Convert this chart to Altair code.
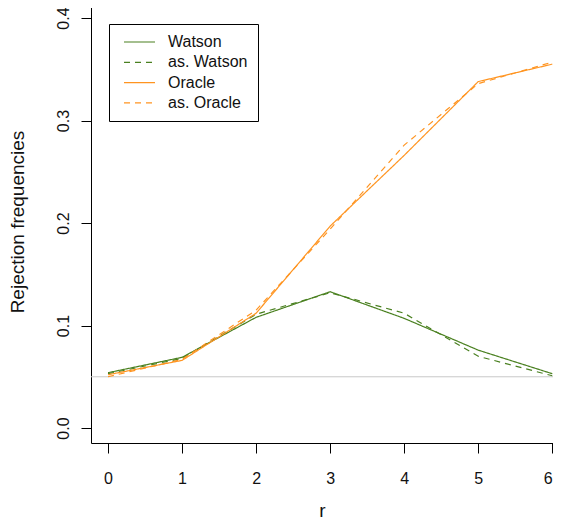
import altair as alt
import pandas as pd

r_values = [0, 1, 2, 3, 4, 5, 6]
watson = [0.054, 0.069, 0.108, 0.133, 0.107, 0.076, 0.053]
as_watson = [0.053, 0.068, 0.111, 0.132, 0.112, 0.070, 0.051]
oracle = [0.052, 0.066, 0.112, 0.197, 0.266, 0.338, 0.355]
as_oracle = [0.050, 0.067, 0.115, 0.194, 0.276, 0.336, 0.357]
series_names = ["Watson", "as. Watson", "Oracle", "as. Oracle"]
nominal_level = [0.05]
y_ticks = [0.0, 0.1, 0.2, 0.3, 0.4]

rows = []
for name, vals in zip(series_names, [watson, as_watson, oracle, as_oracle]):
    for r, v in zip(r_values, vals):
        rows.append({"r": r, "value": v, "series": name})
df = pd.DataFrame(rows)

GREEN = "#4A8020"
ORANGE = "#FF9420"
FONT = "Liberation Sans"

xscale = alt.Scale(domain=[-0.23, 6.01], nice=False, zero=False)
yscale = alt.Scale(domain=[-0.0146, 0.4176], nice=False, zero=False)


def make_legend():
    return alt.Legend(orient="none", legendX=18, legendY=24, title=None,
                      strokeColor="black", fillColor="white", padding=10,
                      symbolType="stroke", symbolSize=961,
                      symbolStrokeWidth=1.2, symbolOffset=4,
                      labelOffset=12, labelFontSize=16, labelFont=FONT,
                      labelColor="#111", rowPadding=4.3, clipHeight=16)


rule = alt.Chart(pd.DataFrame({"y": nominal_level})).mark_rule(
    color="#c8c8c8", strokeWidth=1
).encode(y=alt.Y("y:Q", scale=yscale))

lines = alt.Chart(df).mark_line(strokeWidth=1.2, clip=True).encode(
    x=alt.X("r:Q", scale=xscale, title="r",
            axis=alt.Axis(values=r_values, format="d", tickSize=10, labelPadding=17,
                          titleY=73, titleBaseline="alphabetic")),
    y=alt.Y("value:Q", scale=yscale, title="Rejection frequencies",
            axis=alt.Axis(values=y_ticks, format=".1f", tickSize=10, labelPadding=10,
                          labelAngle=270, labelAlign="center", labelBaseline="bottom",
                          titleX=-74, titleBaseline="middle")),
    color=alt.Color("series:N", scale=alt.Scale(domain=series_names,
                                                range=[GREEN, GREEN, ORANGE, ORANGE]),
                    legend=make_legend()),
    strokeDash=alt.StrokeDash("series:N", scale=alt.Scale(domain=series_names,
                                                          range=[[1, 0], [6, 5], [1, 0], [6, 5]]),
                              legend=make_legend()),
    order="r:Q",
)

chart = alt.layer(rule, lines).properties(
    width=462, height=443,
    padding={"left": 83, "top": -8, "right": 0, "bottom": 77},
    autosize=alt.AutoSizeParams(type="none"),
).configure_view(stroke=None).configure_axis(
    grid=False, domainColor="#000", tickColor="#000", domainWidth=1, tickWidth=1,
    labelFont=FONT, titleFont=FONT, labelFontSize=16, titleFontSize=19,
    labelColor="#111", titleColor="#111", titleFontWeight="normal",
)

chart.save("out.html", embed_options={"renderer": "svg", "actions": False})
